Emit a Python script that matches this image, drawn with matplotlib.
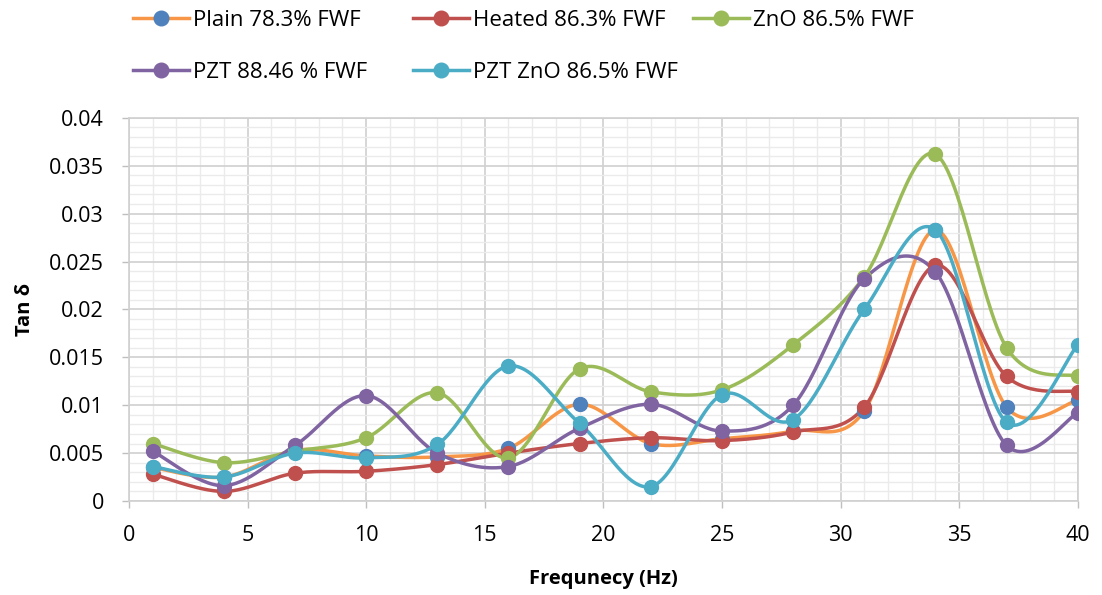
import matplotlib
matplotlib.use("Agg")
import matplotlib.pyplot as plt
from matplotlib.lines import Line2D
import numpy as np

plt.rcParams['font.family'] = ['Open Sans', 'DejaVu Sans']

# Frequency (Hz) and Tan delta values
freq = [1, 4, 7, 10, 13, 16, 19, 22, 25, 28, 31, 34, 37, 40]
plain = [0.0035, 0.0025, 0.0053, 0.0047, 0.0046, 0.0055, 0.0101, 0.0060,
         0.0065, 0.0073, 0.0094, 0.0283, 0.0098, 0.0105]
heated = [0.0028, 0.0010, 0.0029, 0.0031, 0.0038, 0.0050, 0.0060, 0.0066,
          0.0063, 0.0072, 0.0098, 0.0246, 0.0130, 0.0114]
zno = [0.0060, 0.0040, 0.0052, 0.0066, 0.0113, 0.0045, 0.0138, 0.0114,
       0.0116, 0.0163, 0.0234, 0.0362, 0.0160, 0.0130]
pzt = [0.0052, 0.0016, 0.0058, 0.0110, 0.0050, 0.0036, 0.0076, 0.0101,
       0.0073, 0.0100, 0.0232, 0.0239, 0.0058, 0.0092]
pzt_zno = [0.0036, 0.0025, 0.0050, 0.0045, 0.0059, 0.0141, 0.0081, 0.0015,
           0.0111, 0.0085, 0.0200, 0.0283, 0.0082, 0.0163]

labels = ['Plain 78.3% FWF', 'Heated 86.3% FWF', 'ZnO 86.5% FWF',
          'PZT 88.46 % FWF', 'PZT ZnO 86.5% FWF']
series = [plain, heated, zno, pzt, pzt_zno]
line_colors = ['#F79646', '#C0504D', '#9BBB59', '#8064A2', '#4BACC6']
marker_colors = ['#4F81BD', '#C0504D', '#9BBB59', '#8064A2', '#4BACC6']


# Excel-like smoothed line (Catmull-Rom through the data points)
def smooth(x, y, n=30):
    x = np.asarray(x, float)
    y = np.asarray(y, float)
    px = np.concatenate([[x[0]], x, [x[-1]]])
    py = np.concatenate([[y[0]], y, [y[-1]]])
    xs, ys = [], []
    t = np.linspace(0, 1, n)
    for i in range(1, len(px) - 2):
        p0, p1, p2, p3 = px[i - 1], px[i], px[i + 1], px[i + 2]
        q0, q1, q2, q3 = py[i - 1], py[i], py[i + 1], py[i + 2]
        c1x, c1y = p1 + (p2 - p0) / 6, q1 + (q2 - q0) / 6
        c2x, c2y = p2 - (p3 - p1) / 6, q2 - (q3 - q1) / 6
        bx = (1-t)**3*p1 + 3*(1-t)**2*t*c1x + 3*(1-t)*t**2*c2x + t**3*p2
        by = (1-t)**3*q1 + 3*(1-t)**2*t*c1y + 3*(1-t)*t**2*c2y + t**3*q2
        xs.extend(bx)
        ys.extend(by)
    return xs, ys


fig = plt.figure(figsize=(11.02, 5.95), dpi=100)
ax = fig.add_axes([0.117, 0.158, 0.861, 0.644])

handles = []
for y, lab, lc, mc in zip(series, labels, line_colors, marker_colors):
    sx, sy = smooth(freq, y)
    ax.plot(sx, sy, color=lc, lw=2.5, zorder=3)
    ax.plot(freq, y, 'o', color=mc, ms=10, zorder=4)
    handles.append(Line2D([0], [0], color=lc, lw=2.5, marker='o',
                          markerfacecolor=mc, markeredgecolor=mc, ms=10.5))

ax.set_xlim(0, 40)
ax.set_ylim(0, 0.04)
ax.set_xticks(np.arange(0, 41, 5))
ax.set_yticks(np.arange(0, 0.0401, 0.005))
ax.set_yticklabels(['0', '0.005', '0.01', '0.015', '0.02', '0.025',
                    '0.03', '0.035', '0.04'])
ax.set_xticks(np.arange(0, 41, 1), minor=True)
ax.set_yticks(np.arange(0, 0.0401, 0.001), minor=True)
ax.grid(which='major', color='#D0D0D0', lw=1.2)
ax.grid(which='minor', color='#EBEBEB', lw=1.0)
ax.set_axisbelow(True)
for s in ax.spines.values():
    s.set_color('#D0D0D0')
    s.set_linewidth(1.2)
ax.tick_params(which='major', colors='#BFBFBF', labelcolor='black',
               labelsize=15.5, length=5, width=1)
ax.tick_params(axis='x', pad=12)
ax.tick_params(axis='y', pad=13)
ax.tick_params(which='minor', length=0)

ax.set_xlabel('Frequnecy (Hz)', fontsize=14.5, fontweight='bold', labelpad=17)
ax.set_ylabel('Tan δ', fontsize=14.5, fontweight='bold', labelpad=10)

# Excel lays legend entries out in equal-width columns, so one legend per column
columns = [[0, 3], [1, 4], [2]]
col_x = [133, 413, 693]
for idx, cx in zip(columns, col_x):
    leg = fig.legend([handles[i] for i in idx], [labels[i] for i in idx],
                     loc='upper left', bbox_to_anchor=(cx / 1102, 0.983),
                     frameon=False, fontsize=16, handlelength=2.5,
                     handletextpad=0.2, labelspacing=1.4,
                     borderpad=0, borderaxespad=0)

fig.savefig('out.png', dpi=100)
